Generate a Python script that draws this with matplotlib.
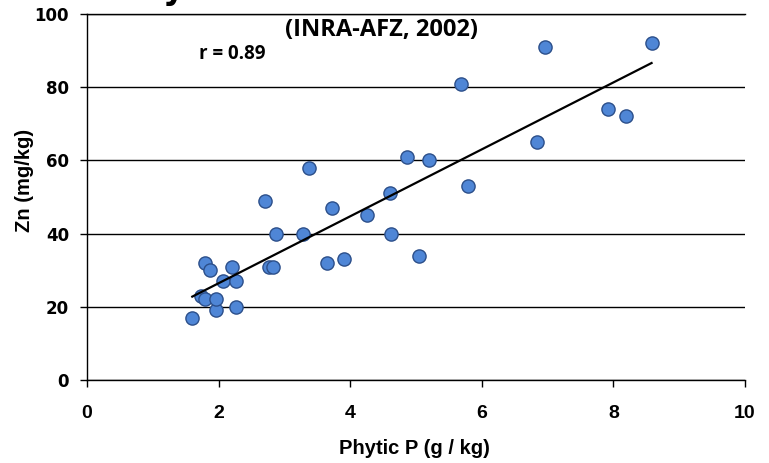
import numpy as np
import matplotlib
matplotlib.use("Agg")
import matplotlib.pyplot as plt

# Phytic P (g/kg) vs Zn (mg/kg)
phytic_p = [1.60, 1.74, 1.80, 1.80, 1.87, 1.96, 1.96, 2.07, 2.21, 2.26, 2.26,
            2.70, 2.76, 2.82, 2.87, 3.29, 3.37, 3.64, 3.72, 3.91, 4.26, 4.60,
            4.62, 4.87, 5.04, 5.20, 5.68, 5.79, 6.84, 6.96, 7.92, 8.19, 8.58]
zn = [17, 23, 22, 32, 30, 19, 22, 27, 31, 27, 20,
      49, 31, 31, 40, 40, 58, 32, 47, 33, 45, 51,
      40, 61, 34, 60, 81, 53, 65, 91, 74, 72, 92]

x_ticks = [0, 2, 4, 6, 8, 10]
y_ticks = [0, 20, 40, 60, 80, 100]

r_label = "r = 0.89"
source_label = "(INRA-AFZ, 2002)"

x = np.array(phytic_p)
y = np.array(zn)
slope, intercept = np.polyfit(x, y, 1)
x_fit = np.array([x.min(), x.max()])

fig = plt.figure(figsize=(7.69, 4.63), dpi=100)
ax = fig.add_axes([87 / 769, 83 / 463, 658 / 769, 366 / 463])

ax.yaxis.grid(True, color="black", lw=1.0)
ax.set_axisbelow(True)

ax.plot(x, y, "o", ms=9.5, mfc="#4f86d6", mec="#2c4f8a", mew=1.0, zorder=3)
ax.plot(x_fit, slope * x_fit + intercept, color="black", lw=1.6, zorder=4)

ax.set_xlim(0, 10)
ax.set_ylim(0, 100)
ax.set_xticks(x_ticks)
ax.set_yticks(y_ticks)

ax.spines["right"].set_visible(False)
for side in ("left", "bottom", "top"):
    ax.spines[side].set_color("black")
    ax.spines[side].set_linewidth(1.0)

ax.tick_params(axis="both", direction="out", length=5, width=1, colors="black")
ax.tick_params(axis="x", pad=13)
ax.tick_params(axis="y", pad=8)
plt.setp(ax.get_xticklabels(), fontfamily="Liberation Sans",
         fontweight="bold", fontsize=14)
plt.setp(ax.get_yticklabels(), fontfamily="DejaVu Sans",
         fontweight="bold", fontsize=12)

ax.set_xlabel("Phytic P (g / kg)", fontfamily="Liberation Sans",
              fontweight="bold", fontsize=14.5, va="center")
ax.xaxis.set_label_coords((414 - 87) / 658, (380 - 448) / 366)
ax.set_ylabel("Zn (mg/kg)", fontfamily="Liberation Sans",
              fontweight="bold", fontsize=14.5, va="center")
ax.yaxis.set_label_coords((25 - 87) / 658, (380 - 180) / 366)

ax.text(2.21, 89, r_label, fontfamily="Open Sans", fontweight="bold",
        fontsize=13.5, ha="center", va="center")
ax.text(4.48, 95.7, source_label, fontfamily="Open Sans", fontweight="bold",
        fontsize=17, ha="center", va="center")

# title above the chart, only the descender of its letter reaches the canvas
fig.text(0.225, 1.002, "y", fontfamily="DejaVu Sans", fontweight="bold",
         fontsize=24, ha="center", va="baseline")

fig.savefig("out.png", dpi=100)
